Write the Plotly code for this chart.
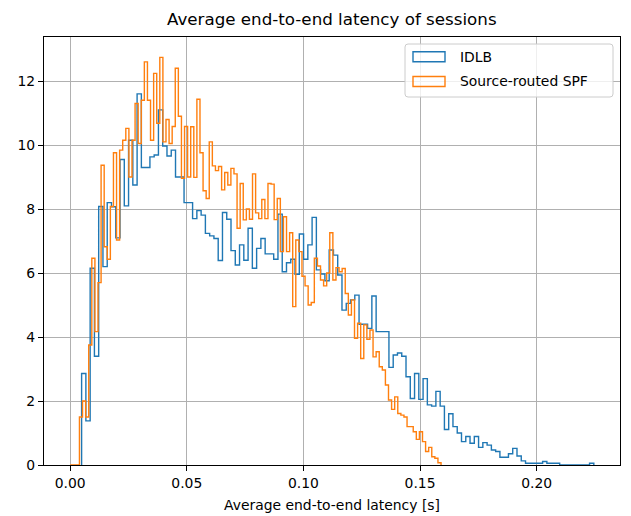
import numpy as np
import plotly.graph_objects as go

# ---------------- data (density histograms) ----------------
series_names = ["IDLB", "Source-routed SPF"]

idlb_bin_range = [0.0049, 0.2245]   # first / last bin edge [s]
idlb_density = [
    2.86, 1.38, 6.15, 3.4, 8.08, 6.2, 8.2, 8.07, 7.1, 9.55,
    8.1, 10.15, 8.75, 11.6, 9.3, 9.3, 9.63, 9.69, 11.1, 9.97,
    9.66, 9.84, 9.0, 9.0, 8.2, 8.2, 7.7, 7.95, 7.81, 7.24,
    7.16, 7.08, 6.39, 7.89, 7.68, 6.7, 6.25, 6.88, 6.4, 7.4,
    6.15, 6.77, 7.08, 6.6, 6.6, 6.43, 7.84, 6.04, 6.32, 6.43,
    5.96, 7.22, 6.43, 6.88, 7.74, 6.1, 5.97, 5.76, 6.72, 6.56,
    5.94, 4.84, 5.05, 5.16, 5.31, 4.4, 4.4, 4.27, 5.28, 4.17,
    4.17, 4.17, 3.05, 3.44, 3.5, 3.4, 2.76, 2.08, 2.86, 2.05,
    2.7, 1.88, 1.84, 2.3, 1.84, 1.11, 1.6, 1.2, 1.0, 0.73,
    0.89, 0.68, 0.89, 0.55, 0.70, 0.62, 0.47, 0.42, 0.24, 0.24,
    0.35, 0.52, 0.28, 0.13, 0.055, 0.055, 0.055, 0.055, 0.11, 0.055,
    0.055, 0.055, 0, 0, 0, 0, 0, 0, 0, 0.055,
]

spf_bin_range = [0.0, 0.159]
spf_density = [
    0, 0, 0,
    1.5, 2.0, 1.5, 3.75, 6.46, 4.17, 5.7, 9.37, 6.82, 6.43,
    8.08, 9.76, 7.03, 9.84, 10.15, 10.52, 9.0, 10.15, 11.3, 10.05,
    11.4, 12.6, 11.4, 10.15, 12.24, 10.68, 12.74, 10.1, 10.8,
    10.05, 10.58, 12.4, 10.9, 8.96, 10.58, 9.0,
    10.57, 8.99, 11.43, 9.76, 8.57, 8.33, 10.1, 9.35, 9.2, 9.33,
    8.6, 9.14, 8.75, 9.27, 9.1, 7.4, 8.8, 7.66, 8.0, 7.68, 9.1,
    7.88, 7.7, 8.3, 7.7, 8.8, 8.78, 7.67, 8.33, 6.67, 7.76,
    6.67, 7.26, 4.95, 7.03, 6.67, 5.9, 5.6, 5.0, 5.08, 6.46,
    6.22, 5.78, 5.6, 6.0, 7.26, 5.78, 6.17, 6.04,
    6.14, 5.36, 4.69, 5.16, 3.96, 4.43, 3.33, 4.38, 3.93, 4.22,
    3.38, 3.54, 3.07, 2.97, 2.5, 2.03, 1.74, 2.13, 1.61, 1.56,
    1.5, 1.2, 1.2, 1.04, 0.8, 1.04, 0.73, 0.42, 0.55, 0.26,
    0.21, 0.07,
]

x_tick_values = [0.00, 0.05, 0.10, 0.15, 0.20]
y_tick_values = [0, 2, 4, 6, 8, 10, 12]

title_text = "Average end-to-end latency of sessions"
xlabel_text = "Average end-to-end latency [s]"

# ---------------- styling ----------------
W, H = 631, 516
ML, MR, MT, MB = 44, 11, 37, 51
colors = ["#1f77b4", "#ff7f0e"]
FONT = "DejaVu Sans"


def step_xy(heights, rng):
    edges = np.linspace(rng[0], rng[1], len(heights) + 1)
    x = [edges[0]] + list(edges[:-1]) + [edges[-1]]
    y = [0.0] + list(heights) + [0.0]
    return x, y


fig = go.Figure()
for name, h, rng, c in zip(series_names, [idlb_density, spf_density],
                           [idlb_bin_range, spf_bin_range], colors):
    x, y = step_xy(h, rng)
    fig.add_trace(go.Scatter(x=x, y=y, mode="lines", line=dict(color=c, width=1.4, shape="hv"),
                             name=name, showlegend=False, hoverinfo="skip"))

xmin = min(idlb_bin_range[0], spf_bin_range[0])
xmax = max(idlb_bin_range[1], spf_bin_range[1])
span = xmax - xmin
ymax = max(max(idlb_density), max(spf_density)) * 1.05

pw = W - ML - MR
ph = H - MT - MB


def px(xp):
    return (xp - ML) / pw


def py(yp):
    return (H - MB - yp) / ph


def rounded_rect(x0, y0, x1, y1, r):
    rx = r / pw
    ry = r / ph
    X0, X1 = px(x0), px(x1)
    Yt, Yb = py(y0), py(y1)
    return (f"M {X0+rx} {Yt} L {X1-rx} {Yt} Q {X1} {Yt} {X1} {Yt-ry} "
            f"L {X1} {Yb+ry} Q {X1} {Yb} {X1-rx} {Yb} L {X0+rx} {Yb} "
            f"Q {X0} {Yb} {X0} {Yb+ry} L {X0} {Yt-ry} Q {X0} {Yt} {X0+rx} {Yt} Z")


shapes = [dict(type="path", xref="paper", yref="paper",
               path=rounded_rect(405, 44, 613, 97, 3),
               fillcolor="rgba(255,255,255,0.8)", line=dict(color="#cccccc", width=1), layer="above")]
annotations = []
for i, (name, c) in enumerate(zip(series_names, colors)):
    yc = 56.7 + i * 24.8
    shapes.append(dict(type="rect", xref="paper", yref="paper",
                       x0=px(413), x1=px(445), y0=py(yc - 5), y1=py(yc + 5),
                       line=dict(color=c, width=1.4), fillcolor="rgba(0,0,0,0)", layer="above"))
    annotations.append(dict(x=px(458), y=py(yc), xref="paper", yref="paper", text=name,
                            showarrow=False, xanchor="left", yanchor="middle",
                            font=dict(family=FONT, size=13.9, color="black")))

annotations.append(dict(x=0.5, y=py(19), xref="paper", yref="paper", text=title_text,
                        showarrow=False, xanchor="center", yanchor="middle",
                        font=dict(family=FONT, size=16.7, color="black")))

fig.update_layout(
    width=W, height=H,
    margin=dict(l=ML, r=MR, t=MT, b=MB, pad=0, autoexpand=False),
    paper_bgcolor="white", plot_bgcolor="white",
    font=dict(family=FONT, size=13.9, color="black"),
    shapes=shapes, annotations=annotations,
    showlegend=False,
)
fig.update_xaxes(range=[xmin - 0.05 * span, xmax + 0.05 * span],
                 tickvals=x_tick_values, tickformat=".2f",
                 showgrid=True, gridcolor="#b0b0b0", gridwidth=1.1,
                 showline=True, linecolor="black", linewidth=1.1, mirror=True,
                 ticks="outside", ticklen=5, tickwidth=1.1, tickcolor="black",
                 ticklabelstandoff=0, automargin=False,
                 zeroline=False,
                 title=dict(text=xlabel_text, font=dict(family=FONT, size=13.9), standoff=10))
fig.update_yaxes(range=[0, ymax], tickvals=y_tick_values,
                 showgrid=True, gridcolor="#b0b0b0", gridwidth=1.1,
                 showline=True, linecolor="black", linewidth=1.1, mirror=True,
                 ticks="outside", ticklen=5, tickwidth=1.1, tickcolor="black",
                 automargin=False,
                 zeroline=False)

fig.write_html("out.html", config={"displayModeBar": False},
               post_script="document.body.style.margin='0';")
